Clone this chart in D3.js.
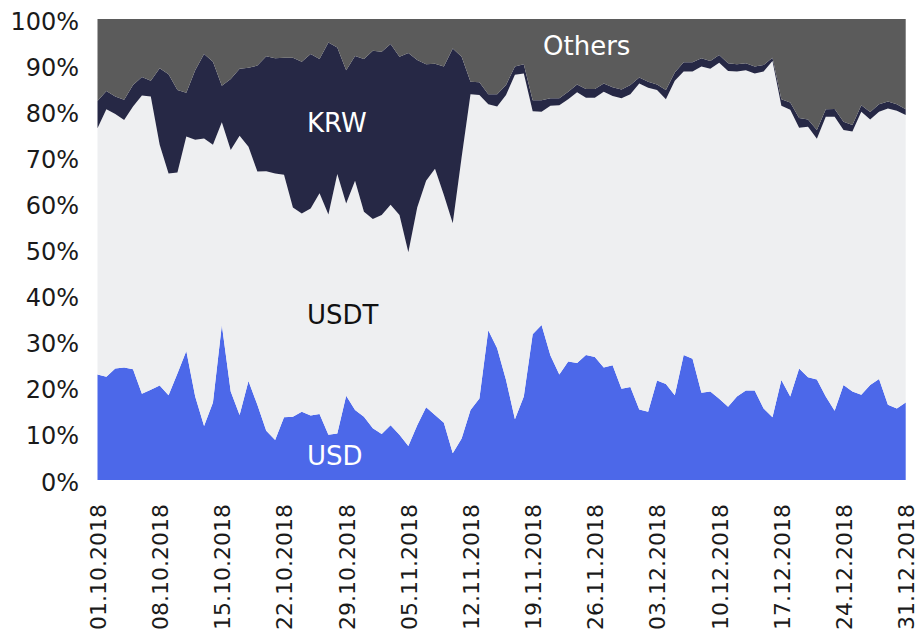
<!DOCTYPE html>
<html>
<head>
<meta charset="utf-8">
<script src="https://cdn.jsdelivr.net/npm/d3@7"></script>
<style>
  body { margin: 0; background: #fff; }
  svg { display: block; font-family: "DejaVu Sans", sans-serif; }
</style>
</head>
<body>
<svg width="919" height="634"></svg>
<script>
// daily dates, 01.10.2018 - 31.12.2018
const days = d3.timeDay.range(new Date(2018, 9, 1), new Date(2019, 0, 1));

const seriesNames = ["USD", "USDT", "KRW", "Others"];

// share of volume, %
const usd = [22.9, 22.4, 24.2, 24.4, 24.0, 18.7, 19.6, 20.5, 18.4, 23.1,
  28.0, 18.1, 11.7, 16.8, 33.6, 19.2, 14.1, 21.5, 16.3, 10.7,
  8.7, 13.6, 13.7, 14.8, 14.0, 14.3, 9.8, 10.1, 18.3, 15.2,
  13.7, 11.2, 10.0, 11.9, 9.8, 7.4, 11.9, 15.8, 14.1, 12.4,
  5.8, 9.0, 15.2, 17.7, 32.5, 28.6, 21.7, 13.2, 18.1, 31.6,
  33.6, 27.0, 22.9, 25.7, 25.4, 27.1, 26.7, 24.4, 24.9, 19.8,
  20.2, 15.3, 14.8, 21.6, 20.8, 18.4, 27.1, 26.3, 18.9, 19.2,
  17.6, 15.9, 18.1, 19.4, 19.4, 15.5, 13.6, 21.7, 18.1, 24.2,
  22.3, 21.8, 18.1, 15.0, 20.6, 19.2, 18.5, 20.6, 21.9, 16.3,
  15.5, 16.8];

const usdt = [53.4, 58.0, 55.2, 53.7, 57.0, 64.7, 63.6, 52.2, 48.1, 43.6,
  46.5, 55.7, 62.4, 55.9, 44.0, 52.4, 60.6, 50.8, 50.6, 56.3,
  57.8, 52.6, 45.4, 43.0, 44.9, 47.9, 47.8, 56.3, 41.7, 49.7,
  44.5, 45.4, 47.5, 47.8, 47.7, 42.0, 47.2, 49.1, 53.4, 49.4,
  49.9, 61.0, 68.5, 65.8, 49.0, 52.4, 61.8, 74.7, 70.1, 48.4,
  46.3, 54.2, 58.4, 56.9, 58.7, 55.8, 56.2, 59.8, 58.4, 63.0,
  63.5, 70.7, 70.3, 63.0, 61.8, 68.2, 61.5, 62.3, 70.8, 70.0,
  72.9, 72.8, 70.5, 69.5, 68.8, 73.1, 77.3, 59.5, 62.2, 52.2,
  54.3, 52.2, 60.7, 63.8, 55.3, 56.4, 61.4, 57.6, 58.0, 64.3,
  64.6, 62.4];

const krw = [5.9, 4.0, 3.8, 4.4, 4.7, 4.0, 3.4, 16.6, 21.5, 17.9,
  9.5, 15.1, 18.3, 18.0, 7.9, 15.4, 14.5, 17.1, 23.0, 24.9,
  25.0, 25.4, 32.5, 32.9, 33.5, 29.1, 37.3, 27.4, 28.9, 27.1,
  33.1, 36.5, 35.4, 34.9, 34.3, 43.2, 32.0, 25.3, 22.8, 27.9,
  37.9, 21.8, 2.7, 2.8, 2.2, 2.7, 2.2, 1.8, 2.0, 2.4,
  2.5, 1.6, 1.5, 1.6, 1.7, 1.9, 1.9, 1.8, 1.9, 1.9,
  2.0, 1.3, 1.3, 1.2, 2.0, 1.8, 2.0, 2.0, 1.8, 1.7,
  1.7, 1.7, 1.6, 1.5, 1.5, 1.4, 0.7, 1.4, 1.6, 2.1,
  1.6, 1.9, 1.6, 1.7, 1.8, 1.4, 1.4, 1.6, 1.6, 1.5,
  1.4, 1.2];

const others = [17.8, 15.6, 16.8, 17.5, 14.3, 12.6, 13.4, 10.7, 12.0, 15.4,
  16.0, 11.1, 7.6, 9.3, 14.5, 13.0, 10.8, 10.6, 10.1, 8.1,
  8.5, 8.4, 8.4, 9.3, 7.6, 8.7, 5.1, 6.2, 11.1, 8.0,
  8.7, 6.9, 7.1, 5.4, 8.2, 7.4, 8.9, 9.8, 9.7, 10.3,
  6.4, 8.2, 13.6, 13.7, 16.3, 16.3, 14.3, 10.3, 9.8, 17.6,
  17.6, 17.2, 17.2, 15.8, 14.2, 15.2, 15.2, 14.0, 14.8, 15.3,
  14.3, 12.7, 13.6, 14.2, 15.4, 11.6, 9.4, 9.4, 8.5, 9.1,
  7.8, 9.6, 9.8, 9.6, 10.3, 10.0, 8.4, 17.4, 18.1, 21.5,
  21.8, 24.1, 19.6, 19.5, 22.3, 23.0, 18.7, 20.2, 18.5, 17.9,
  18.5, 19.6];

const yTicks = [0, 10, 20, 30, 40, 50, 60, 70, 80, 90, 100];

const colors = {
  USD: "#4c68e9",
  USDT: "#eeeff1",
  KRW: "#262845",
  Others: "#5b5b5b"
};

const rows = days.map((d, i) => ({
  date: d,
  USD: usd[i],
  USDT: usdt[i],
  KRW: krw[i],
  Others: others[i]
}));

const svg = d3.select("svg");

const x = d3.scaleTime()
  .domain([days[0], days[days.length - 1]])
  .range([97.5, 905.7]);

const y = d3.scaleLinear()
  .domain([0, 100])
  .range([480, 19]);

const stack = d3.stack().keys(seriesNames);
const layers = stack(rows);

const area = d3.area()
  .x(d => x(d.data.date))
  .y0(d => y(d[0]))
  .y1(d => y(d[1]));

svg.append("g")
  .selectAll("path")
  .data(layers)
  .enter()
  .append("path")
  .attr("fill", d => colors[d.key])
  .attr("d", area);

// y axis
const yAxis = svg.append("g")
  .attr("transform", "translate(79,0)")
  .call(d3.axisLeft(y).tickValues(yTicks).tickSize(0).tickPadding(0).tickFormat(d => d + "%"));
yAxis.select(".domain").remove();
yAxis.selectAll("text")
  .attr("font-family", "DejaVu Sans, sans-serif")
  .attr("font-size", 24)
  .attr("fill", "#1a1a1a")
  .attr("dy", "0.42em");

// x axis
const xAxis = svg.append("g")
  .attr("transform", "translate(0,480)")
  .call(d3.axisBottom(x)
    .tickValues(d3.timeMonday.range(days[0], d3.timeDay.offset(days[days.length - 1], 1)))
    .tickSize(0)
    .tickFormat(d3.timeFormat("%d.%m.%Y")));
xAxis.select(".domain").remove();
xAxis.selectAll("text")
  .attr("font-family", "DejaVu Sans, sans-serif")
  .attr("font-size", 22)
  .attr("fill", "#1a1a1a")
  .attr("transform", "rotate(-90)")
  .attr("text-anchor", "end")
  .attr("x", -24)
  .attr("y", 0)
  .attr("dy", "0.36em");

// series labels
const labels = [
  { text: "Others", x: 543, y: 55, fill: "#ffffff" },
  { text: "KRW", x: 307, y: 132, fill: "#ffffff" },
  { text: "USDT", x: 307, y: 324, fill: "#111111" },
  { text: "USD", x: 307, y: 465, fill: "#ffffff" }
];

svg.selectAll(".series-label")
  .data(labels)
  .enter()
  .append("text")
  .attr("class", "series-label")
  .attr("x", d => d.x)
  .attr("y", d => d.y)
  .attr("font-size", 26)
  .attr("fill", d => d.fill)
  .text(d => d.text);
</script>
</body>
</html>
